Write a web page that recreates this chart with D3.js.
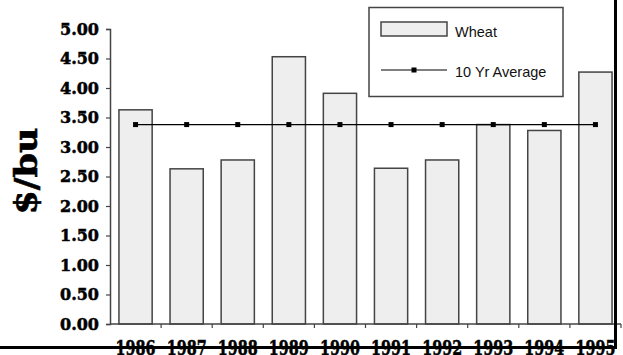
<!DOCTYPE html>
<html><head><meta charset="utf-8">
<script src="https://cdn.jsdelivr.net/npm/d3@7"></script>
<style>body{margin:0;background:#fff}svg{display:block}
.serif{font-family:"DejaVu Serif",serif;font-weight:bold}
.sans{font-family:"Liberation Sans",Arial,sans-serif}
</style>
</head><body>
<svg id="c" width="623" height="355"></svg>
<script>
const years = ["1986","1987","1988","1989","1990","1991","1992","1993","1994","1995"];
const wheat = [3.63, 2.63, 2.78, 4.53, 3.91, 2.64, 2.78, 3.38, 3.28, 4.27];
const average = [3.38, 3.38, 3.38, 3.38, 3.38, 3.38, 3.38, 3.38, 3.38, 3.38];
const yTicks = [0, 0.5, 1, 1.5, 2, 2.5, 3, 3.5, 4, 4.5, 5];
const seriesNames = ["Wheat", "10 Yr Average"];

const svg = d3.select("#c");
const x = d3.scaleBand().domain(years).range([110, 621]).paddingInner(0.35).paddingOuter(0.175);
const xb = d3.scaleBand().domain(years).range([110, 621]);
const y = d3.scaleLinear().domain([0, 5]).range([324, 29]);
const axisCol = "#444";

// bars
svg.append("g").selectAll("rect").data(years).join("rect")
  .attr("x", d => xb(d) + xb.bandwidth()/2 - x.bandwidth()/2)
  .attr("width", x.bandwidth())
  .attr("y", (d,i) => y(wheat[i]))
  .attr("height", (d,i) => y(0) - y(wheat[i]))
  .attr("fill", "#eeeeee").attr("stroke", axisCol).attr("stroke-width", 1.5);

// y axis
const ya = svg.append("g").attr("transform", "translate(110,0)")
  .call(d3.axisLeft(y).tickValues(yTicks).tickSize(4).tickPadding(7).tickFormat(d3.format(".2f")));
ya.attr("font-family", null).attr("font-size", null);
ya.select(".domain").attr("stroke", axisCol).attr("stroke-width", 1.5);
ya.selectAll(".tick line").attr("stroke", axisCol).attr("stroke-width", 1.2);
ya.selectAll("text").attr("class", "serif")
  .style("font-size", "16px").attr("fill", "#000")
  .attr("stroke", "#000").attr("stroke-width", 0.5);

// x axis line + ticks between categories
const xa = svg.append("g").attr("transform", "translate(0,324)");
xa.append("line").attr("x1", 110).attr("x2", 621).attr("stroke", axisCol).attr("stroke-width", 1.5);
xa.selectAll("line.t").data(years.slice(1).concat(["end"])).join("line").attr("class","t")
  .attr("x1", (d,i) => i < years.length - 1 ? xb(d) : 621)
  .attr("x2", (d,i) => i < years.length - 1 ? xb(d) : 621)
  .attr("y1", 0).attr("y2", 4).attr("stroke", axisCol).attr("stroke-width", 1.2);

// year labels
svg.append("g").selectAll("text").data(years).join("text")
  .attr("class", "serif")
  .attr("x", d => xb(d) + xb.bandwidth()/2)
  .attr("y", 355)
  .attr("text-anchor", "middle")
  .style("font-size", "20px")
  .attr("stroke", "#000").attr("stroke-width", 0.5)
  .attr("textLength", 40).attr("lengthAdjust", "spacingAndGlyphs")
  .text(d => d);

// average line
const line = d3.line().x((d,i) => xb(years[i]) + xb.bandwidth()/2).y(d => y(d));
svg.append("path").datum(average).attr("d", line)
  .attr("fill", "none").attr("stroke", "#000").attr("stroke-width", 1.2);
svg.append("g").selectAll("rect").data(average).join("rect")
  .attr("x", (d,i) => xb(years[i]) + xb.bandwidth()/2 - 2.5)
  .attr("y", d => y(d) - 2.5)
  .attr("width", 5).attr("height", 5).attr("fill", "#000");

// y title
svg.append("text")
  .attr("class", "serif")
  .attr("transform", "translate(37,171) rotate(-90)")
  .attr("text-anchor", "middle")
  .style("font-size", "31px")
  .attr("stroke", "#000").attr("stroke-width", 0.6)
  .attr("textLength", 87).attr("lengthAdjust", "spacingAndGlyphs")
  .text("$/bu");

// legend
const lg = svg.append("g");
lg.append("rect").attr("x", 369).attr("y", 7.5).attr("width", 194).attr("height", 89)
  .attr("fill", "#fff").attr("stroke", axisCol).attr("stroke-width", 1.5);
lg.append("rect").attr("x", 381).attr("y", 22).attr("width", 66).attr("height", 14)
  .attr("fill", "#eeeeee").attr("stroke", axisCol).attr("stroke-width", 1.5);
lg.append("line").attr("x1", 381).attr("x2", 447).attr("y1", 70).attr("y2", 70)
  .attr("stroke", "#000").attr("stroke-width", 1.2);
lg.append("rect").attr("x", 411.5).attr("y", 67.5).attr("width", 5).attr("height", 5).attr("fill", "#000");
lg.selectAll("text").data(seriesNames).join("text")
  .attr("class", "sans")
  .attr("x", 455).attr("y", (d,i) => i === 0 ? 37 : 77)
  .style("font-size", "14.5px").attr("fill", "#111")
  .text(d => d);

// frame lines (right and bottom)
svg.append("line").attr("x1", 615.5).attr("x2", 615.5).attr("y1", 0).attr("y2", 349)
  .attr("stroke", "#000").attr("stroke-width", 3);
svg.append("line").attr("x1", 0).attr("x2", 617).attr("y1", 347.5).attr("y2", 347.5)
  .attr("stroke", "#000").attr("stroke-width", 3);
</script>
</body></html>
